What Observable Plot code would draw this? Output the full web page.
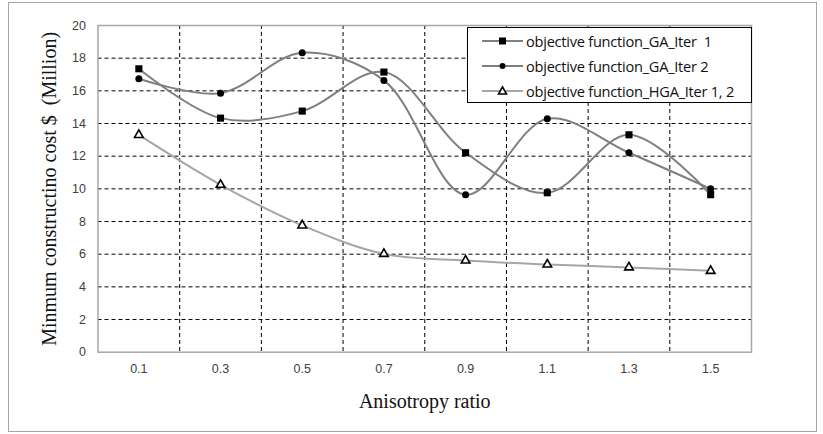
<!DOCTYPE html>
<html>
<head>
<meta charset="utf-8">
<script src="https://cdn.jsdelivr.net/npm/d3@7"></script>
<script src="https://cdn.jsdelivr.net/npm/@observablehq/plot@0.6"></script>
<style>
  html, body { margin: 0; padding: 0; background: #fff; }
  #wrap { position: relative; width: 823px; height: 434px; }
  #border { position: absolute; left: 8px; top: 2px; width: 807px; height: 428px; border: 1.5px solid #a6a6a6; box-sizing: content-box; pointer-events: none; }
  #legend { position: absolute; left: 467px; top: 27px; width: 285px; height: 76px; background: #fff; border: 1px solid #000; box-sizing: border-box; font: 14.6px "Open Sans", "Liberation Sans", Arial, sans-serif; letter-spacing: -0.25px; color: #111; padding-top: 0; }
  #legend .row { display: flex; align-items: center; height: 25px; white-space: pre; }
  #legend svg { margin-left: 14px; margin-right: 3px; }
</style>
</head>
<body>
<div id="wrap">
  <div id="chart"></div>
  <div id="border"></div>
  <div id="legend"></div>
</div>
<script>
// Anisotropy ratio categories and tick labels
const ratios = ["0.1", "0.3", "0.5", "0.7", "0.9", "1.1", "1.3", "1.5"];
const yTicks = [0, 2, 4, 6, 8, 10, 12, 14, 16, 18, 20];
const yGrid = [2, 4, 6, 8, 10, 12, 14, 16, 18];
const xGrid = [0.2, 0.4, 0.6, 0.8, 1.0, 1.2, 1.4];

// Minimum construction cost ($ million) per run
const gaIter1 = [17.35, 14.33, 14.76, 17.15, 12.21, 9.76, 13.31, 9.64];
const gaIter2 = [16.74, 15.86, 18.33, 16.64, 9.64, 14.29, 12.21, 10.0];
const hgaIter12 = [13.3, 10.25, 7.76, 6.02, 5.61, 5.37, 5.19, 4.98];

const seriesNames = [
  "objective function_GA_Iter  1",
  "objective function_GA_Iter 2",
  "objective function_HGA_Iter 1, 2"
];

const toRows = (vals) => ratios.map((r, i) => ({x: +r, y: vals[i]}));
const s1 = toRows(gaIter1), s2 = toRows(gaIter2), s3 = toRows(hgaIter12);

const chart = Plot.plot({
  width: 823,
  height: 434,
  marginLeft: 97.5,
  marginRight: 72,
  marginTop: 25,
  marginBottom: 82.3,
  style: {fontFamily: "'Liberation Sans', Arial, sans-serif", fontSize: "12.5px", color: "#404040", background: "transparent"},
  x: {domain: [0, 1.6]},
  y: {domain: [0, 20]},
  marks: [
    Plot.gridY(yGrid, {stroke: "#000", strokeOpacity: 1, strokeDasharray: "4,3", strokeWidth: 1}),
    Plot.gridX(xGrid, {stroke: "#000", strokeOpacity: 1, strokeDasharray: "4,3", strokeWidth: 1}),
    Plot.frame({stroke: "#a6a6a6", strokeWidth: 1.5}),
    Plot.axisY(yTicks, {tickSize: 0, tickPadding: 12, label: null, fill: "#404040"}),
    Plot.axisX(ratios.map(Number), {tickSize: 0, tickPadding: 12, label: null, tickFormat: (d) => ratios.find((r) => +r === d), fill: "#404040"}),
    Plot.line(s3, {x: "x", y: "y", curve: "catmull-rom", stroke: "#a6a6a6", strokeWidth: 2}),
    Plot.line(s1, {x: "x", y: "y", curve: "catmull-rom", stroke: "#7f7f7f", strokeWidth: 2}),
    Plot.line(s2, {x: "x", y: "y", curve: "catmull-rom", stroke: "#7f7f7f", strokeWidth: 2}),
    Plot.dot(s1, {x: "x", y: "y", symbol: "square", r: 4, fill: "#000"}),
    Plot.dot(s2, {x: "x", y: "y", symbol: "circle", r: 3.5, fill: "#000"}),
    Plot.dot(s3, {x: "x", y: "y", symbol: "triangle", r: 3.2, fill: "#fff", stroke: "#000", strokeWidth: 1.6}),
    Plot.axisX({frameAnchor: "bottom", ticks: [], label: "Anisotropy ratio", labelAnchor: "center", labelOffset: 56, labelArrow: "none",
      fontFamily: "'Liberation Serif', 'Times New Roman', serif", fontSize: 20, fill: "#111"}),
    Plot.axisY({frameAnchor: "left", ticks: [], label: "Minmum constructino cost $  (Million)", labelAnchor: "center", labelOffset: 56, labelArrow: "none",
      fontFamily: "'Liberation Serif', 'Times New Roman', serif", fontSize: 20, fill: "#111"})
  ]
});
document.getElementById("chart").appendChild(chart);

// Legend entries: gray line segment with the series marker, then the label
const legendSpecs = [
  {stroke: "#7f7f7f", marker: '<rect x="17" y="5.5" width="7" height="7" fill="#000"/>'},
  {stroke: "#7f7f7f", marker: '<circle cx="20.5" cy="9" r="3" fill="#000"/>'},
  {stroke: "#a6a6a6", marker: '<path d="M20.5,4.8 L24.5,12 L16.5,12 Z" fill="#fff" stroke="#000" stroke-width="1.6"/>'}
];
const legend = document.getElementById("legend");
seriesNames.forEach((name, i) => {
  const spec = legendSpecs[i];
  const row = document.createElement("div");
  row.className = "row";
  row.innerHTML = `<svg width="41" height="18"><line x1="0" y1="9" x2="41" y2="9" stroke="${spec.stroke}" stroke-width="2"/>${spec.marker}</svg><span>${name}</span>`;
  legend.appendChild(row);
});
</script>
</body>
</html>
